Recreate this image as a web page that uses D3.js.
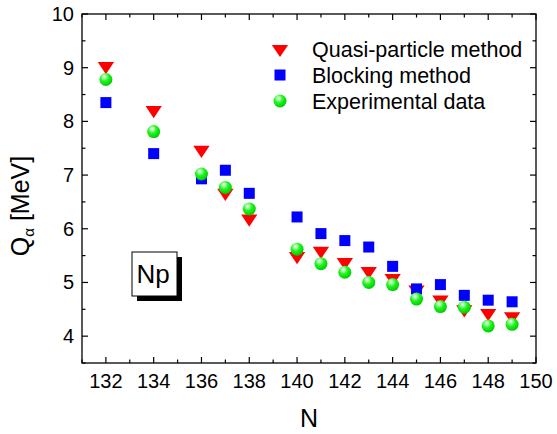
<!DOCTYPE html>
<html lang="en">
<head>
    <meta charset="UTF-8">
    <title>Q-alpha Np</title>
    <style>
        body { margin: 0; background: #fff; }
        text { font-family: Arial, "Liberation Sans", sans-serif; fill: #000; }
        .tick-label { font-size: 20px; }
        .axis-title { font-size: 25px; }
        .legend-text { font-size: 21.5px; }
    </style>
    <script src="https://d3js.org/d3.v7.min.js"></script>
</head>
<body>
    <script>
        // data
        const neutrons = [132, 134, 136, 137, 138, 140, 141, 142, 143, 144, 145, 146, 147, 148, 149];
        const quasiParticle = [9.03, 8.21, 7.47, 6.67, 6.19, 5.49, 5.59, 5.38, 5.21, 5.08, 4.87, 4.68, 4.50, 4.43, 4.37];
        const blocking = [8.35, 7.40, 6.93, 7.09, 6.66, 6.22, 5.91, 5.78, 5.66, 5.30, 4.88, 4.96, 4.76, 4.67, 4.64];
        const experimental = [8.78, 7.81, 7.02, 6.77, 6.37, 5.62, 5.35, 5.19, 5.00, 4.96, 4.69, 4.55, 4.54, 4.19, 4.22];
        const xTicks = [132, 134, 136, 138, 140, 142, 144, 146, 148, 150];
        const yTicks = [4, 5, 6, 7, 8, 9, 10];
        const legendLabels = ["Quasi-particle method", "Blocking method", "Experimental data"];

        const width = 557, height = 434;
        const mLeft = 82, mRight = 536, mTop = 14, mBottom = 363;

        const svg = d3.select("body").append("svg")
            .attr("width", width).attr("height", height);

        const x = d3.scaleLinear().domain([131, 150]).range([mLeft, mRight]);
        const y = d3.scaleLinear().domain([3.5, 10]).range([mBottom, mTop]);

        // gradient for the green balls
        const defs = svg.append("defs");
        const grad = defs.append("radialGradient").attr("id", "ball")
            .attr("cx", "40%").attr("cy", "35%").attr("r", "65%")
            .attr("fx", "38%").attr("fy", "28%");
        grad.append("stop").attr("offset", "0%").attr("stop-color", "#ffffff");
        grad.append("stop").attr("offset", "20%").attr("stop-color", "#a8ffa8");
        grad.append("stop").attr("offset", "50%").attr("stop-color", "#22f522");
        grad.append("stop").attr("offset", "100%").attr("stop-color", "#00cc00");

        // frame
        svg.append("rect")
            .attr("x", mLeft).attr("y", mTop)
            .attr("width", mRight - mLeft).attr("height", mBottom - mTop)
            .attr("fill", "none").attr("stroke", "#000").attr("stroke-width", 1.3);

        // ticks (inside, all four sides)
        const xMinor = d3.range(131, 150.01, 1);
        const yMinor = d3.range(3.5, 10.01, 0.5);
        const g = svg.append("g").attr("stroke", "#000").attr("stroke-width", 1.2);
        xMinor.forEach(v => {
            const len = xTicks.includes(v) ? 6 : 3.5;
            g.append("line").attr("x1", x(v)).attr("x2", x(v)).attr("y1", mBottom).attr("y2", mBottom - len);
            g.append("line").attr("x1", x(v)).attr("x2", x(v)).attr("y1", mTop).attr("y2", mTop + len);
        });
        yMinor.forEach(v => {
            const len = yTicks.includes(v) ? 6 : 3.5;
            g.append("line").attr("y1", y(v)).attr("y2", y(v)).attr("x1", mLeft).attr("x2", mLeft + len);
            g.append("line").attr("y1", y(v)).attr("y2", y(v)).attr("x1", mRight).attr("x2", mRight - len);
        });

        // tick labels
        svg.selectAll(".xl").data(xTicks).enter().append("text")
            .attr("class", "tick-label")
            .attr("x", d => x(d)).attr("y", mBottom + 25)
            .attr("text-anchor", "middle").text(d => d);
        svg.selectAll(".yl").data(yTicks).enter().append("text")
            .attr("class", "tick-label")
            .attr("x", mLeft - 8).attr("y", d => y(d) + 7)
            .attr("text-anchor", "end").text(d => d);

        // axis titles
        svg.append("text").attr("class", "axis-title")
            .attr("x", (mLeft + mRight) / 2).attr("y", 427)
            .attr("text-anchor", "middle").text("N");
        const yt = svg.append("text").attr("class", "axis-title")
            .attr("transform", `translate(29, 206) rotate(-90)`)
            .attr("text-anchor", "middle");
        yt.append("tspan").text("Q");
        yt.append("tspan").attr("font-size", "15px").attr("dy", 5).text("α");
        yt.append("tspan").attr("dy", -5).text(" [MeV]");

        // markers
        const tri = d3.symbol().type(d3.symbolTriangle).size(95);
        svg.append("g").selectAll("path").data(neutrons).enter().append("path")
            .attr("d", tri).attr("fill", "#ff0000")
            .attr("transform", (d, i) => `translate(${x(d)},${y(quasiParticle[i])}) rotate(180) scale(1.1,0.95)`);

        svg.append("g").selectAll("rect").data(neutrons).enter().append("rect")
            .attr("x", d => x(d) - 5.5).attr("y", (d, i) => y(blocking[i]) - 5.5)
            .attr("width", 11).attr("height", 11).attr("fill", "#0000ff");

        svg.append("g").selectAll("circle").data(neutrons).enter().append("circle")
            .attr("cx", d => x(d)).attr("cy", (d, i) => y(experimental[i]))
            .attr("r", 6.5).attr("fill", "url(#ball)");

        // legend
        const lg = svg.append("g");
        const ly = [49, 75, 101];
        lg.append("path").attr("d", tri).attr("fill", "#ff0000")
            .attr("transform", `translate(280,${ly[0]}) rotate(180) scale(1.1,0.95)`);
        lg.append("rect").attr("x", 274.5).attr("y", ly[1] - 5.5).attr("width", 11).attr("height", 11).attr("fill", "#0000ff");
        lg.append("circle").attr("cx", 280).attr("cy", ly[2]).attr("r", 6.5).attr("fill", "url(#ball)");
        lg.selectAll("text").data(legendLabels).enter().append("text")
            .attr("class", "legend-text")
            .attr("x", 312).attr("y", (d, i) => ly[i] + 7.5).text(d => d);

        // Np label box with shadow
        svg.append("rect").attr("x", 137).attr("y", 257).attr("width", 45).attr("height", 44).attr("fill", "#000");
        svg.append("rect").attr("x", 132).attr("y", 252).attr("width", 45).attr("height", 44)
            .attr("fill", "#fff").attr("stroke", "#000").attr("stroke-width", 1);
        svg.append("text").attr("x", 153).attr("y", 283).attr("text-anchor", "middle")
            .attr("font-size", "26px").text("Np");
    </script>
</body>
</html>
